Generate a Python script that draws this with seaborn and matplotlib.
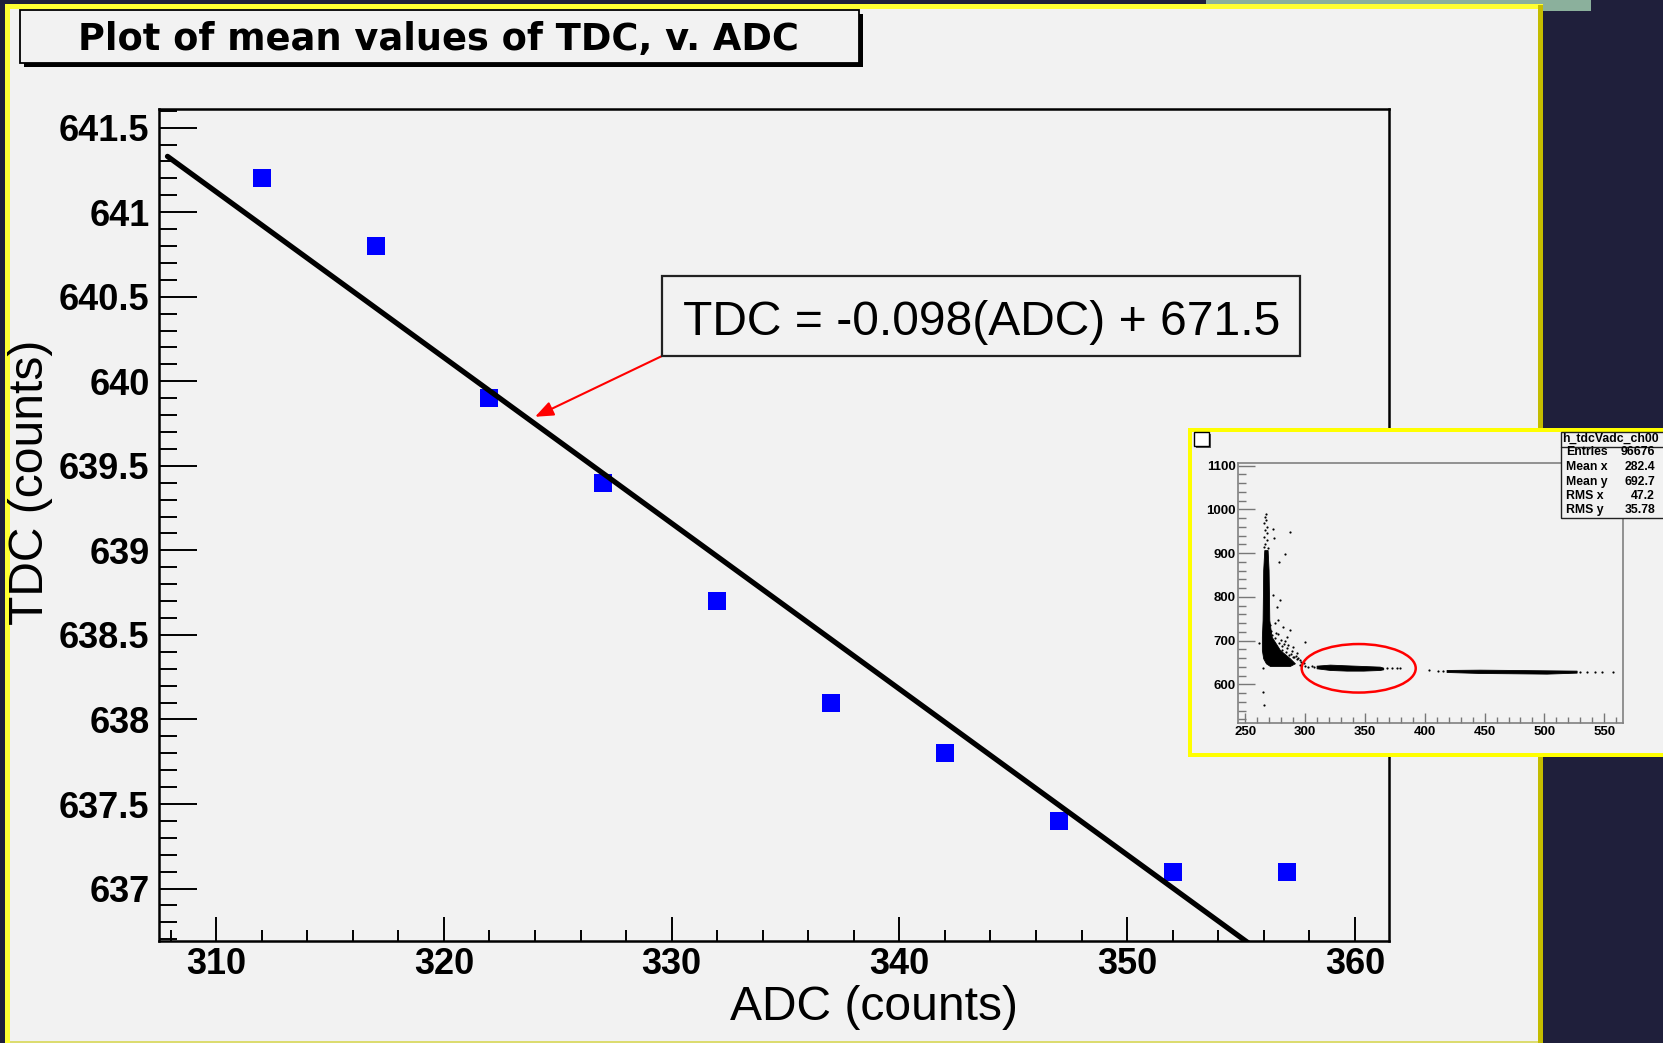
import matplotlib
matplotlib.use("Agg")
import matplotlib.pyplot as plt
from matplotlib.patches import Rectangle, Ellipse
from matplotlib.lines import Line2D
from matplotlib.ticker import MultipleLocator
import seaborn as sns

# ---------------- data ----------------
adc = [312, 317, 322, 327, 332, 337, 342, 347, 352, 357]
tdc_mean = [641.2, 640.8, 639.9, 639.4, 638.7, 638.1, 637.8, 637.4, 637.1, 637.1]

fit_slope = -0.098
fit_intercept = 671.5
fit_x = [307.86, 361.5]

x_ticks = [310, 320, 330, 340, 350, 360]
x_tick_labels = ["310", "320", "330", "340", "350", "360"]
y_ticks = [637, 637.5, 638, 638.5, 639, 639.5, 640, 640.5, 641, 641.5]
y_tick_labels = ["637", "637.5", "638", "638.5", "639", "639.5",
                 "640", "640.5", "641", "641.5"]

title_text = "Plot of mean values of TDC, v. ADC"
fit_text = "TDC = -0.098(ADC) + 671.5"

# inset: TDC vs ADC scatter, dense cores as bands plus sparse hits
stem_y = [642, 648, 659.5, 678.5, 709, 747, 808, 861, 907]
stem_xl = [270.6, 267.3, 265.0, 263.9, 263.9, 264.5, 264.8, 265.0, 265.9]
stem_xr = [287.3, 291.5, 287.3, 279.0, 272.0, 270.1, 269.8, 269.5, 268.7]

band1_x = [309.6, 320.8, 334.7, 348.6, 362.5, 365.3]
band1_lo = [636.6, 632.8, 631.3, 631.3, 632.8, 634.3]
band1_hi = [642.7, 645.0, 643.4, 641.9, 640.4, 638.1]

band2_x = [418.2, 446.1, 474.0, 501.8, 526.9]
band2_lo = [628.2, 625.9, 625.2, 624.4, 626.7]
band2_hi = [632.8, 633.5, 632.8, 632.0, 631.3]

hits_x = [267.5, 266.8, 267.2, 266.0, 268.0, 266.5, 267.8, 265.6, 268.4, 266.9,
          265.8, 268.9, 273.4, 287.3, 274.0, 283.2, 278.2, 273.4, 279.0, 277.6,
          281.8, 284.5, 290.1, 292.9, 299.9, 295.7, 287.3, 276.2, 273.4, 280.4,
          283.0, 286.0, 289.0, 292.0, 294.0, 297.0, 299.0, 296.0, 300.0, 261.7,
          264.5, 265.0, 265.6, 302.6, 305.4, 307.7, 368.1, 372.3, 376.5, 379.2,
          403.8, 411.3, 415.5, 529.7, 535.2, 542.2, 547.8, 557.5,
          270.5, 271.5, 272.5, 274.5, 276.0, 278.5, 281.0, 284.0, 286.5, 289.5,
          275.0, 277.0, 280.0, 282.5, 285.0, 288.0, 291.0, 293.5]
hits_y = [990, 983, 975, 968, 960, 952, 945, 938, 930, 922,
          915, 912, 954.4, 948.3, 933.9, 897.3, 880.4, 804.2, 792.8, 747,
          731.9, 709, 686.1, 670.9, 697.6, 655.6, 724.2, 777.6, 670.9, 678.5,
          700, 690, 676, 664, 660, 652, 648, 645, 643, 693.8,
          636.6, 583, 552.7, 640.4, 641.9, 639.6, 636.6, 636.6, 638.1, 637.3,
          632.8, 631.3, 631.3, 627.4, 628.2, 627.4, 627.4, 627.4,
          735, 722, 712, 705, 718, 695, 688, 675, 668, 662,
          740, 715, 702, 692, 682, 670, 662, 657]

ellipse_center = (344.8, 636.6)
ellipse_size = (95.3, 111.0)

stat_title = "h_tdcVadc_ch00"
stat_names = ["Entries", "Mean x", "Mean y", "RMS x", "RMS y"]
stat_values = ["96676", "282.4", "692.7", "47.2", "35.78"]

# ---------------- style ----------------
sns.set_style("ticks")
plt.rcParams["font.family"] = ["Liberation Sans", "DejaVu Sans"]
plt.rcParams.update({"text.color": "black", "axes.labelcolor": "black",
                     "xtick.color": "black", "ytick.color": "black",
                     "xtick.labelcolor": "black", "ytick.labelcolor": "black"})

NAVY = "#1f1f3b"
PANEL = "#f2f2f2"
W, H = 1663, 1043

fig = plt.figure(figsize=(W / 100, H / 100), dpi=100, facecolor=NAVY)


def prect(x0, y0, x1, y1, **kw):
    """Rectangle given in pixel coordinates (origin top-left)."""
    r = Rectangle((x0 / W, 1 - y1 / H), (x1 - x0) / W, (y1 - y0) / H,
                  transform=fig.transFigure, **kw)
    fig.add_artist(r)
    return r


def pline(x0, y0, x1, y1, **kw):
    fig.add_artist(Line2D([x0 / W, x1 / W], [1 - y0 / H, 1 - y1 / H],
                          transform=fig.transFigure, **kw))


# canvas frame
prect(1206, 0, 1591, 11, facecolor="#8bb09c", edgecolor="none", zorder=-12)
prect(5, 4, 1543, 1043, facecolor="#ffff33", edgecolor="none", zorder=-11)
prect(10, 9, 1538, 1041, facecolor=PANEL, edgecolor="none", zorder=-10)
prect(1538, 5, 1543, 1043, facecolor="#c4bc00", edgecolor="none", zorder=-9)
prect(10, 1041, 1538, 1043, facecolor="#dcdc70", edgecolor="none", zorder=-9)

# title box with drop shadow
prect(24, 14, 863, 67, facecolor="black", edgecolor="none", zorder=1)
prect(20, 10, 859, 63, facecolor=PANEL, edgecolor="black", linewidth=1.3, zorder=2)
fig.text(438 / W, 1 - 50 / H, title_text, ha="center", va="baseline",
         fontsize=26.5, fontweight="bold", family=["DejaVu Sans"],
         color="black", zorder=3)

# ---------------- main plot ----------------
ax = fig.add_axes([159.3 / W, 1 - 941 / H, (1389 - 159.3) / W, (941 - 109) / H],
                  zorder=0)
ax.set_facecolor(PANEL)

sns.scatterplot(x=adc, y=tdc_mean, marker="s", s=168, color="#0000ff",
                linewidth=0, ax=ax, zorder=2, legend=False)
fit_y = [fit_slope * x + fit_intercept for x in fit_x]
sns.lineplot(x=fit_x, y=fit_y, color="black", linewidth=3.8, ax=ax,
             zorder=3, legend=False)

ax.set_xlim(307.5, 361.5)
ax.set_ylim(636.69, 641.61)

ax.set_xticks(x_ticks, labels=x_tick_labels, fontsize=26, fontweight="bold",
              color="black")
ax.set_yticks(y_ticks, labels=y_tick_labels, fontsize=26, fontweight="bold",
              color="black")
ax.xaxis.set_minor_locator(MultipleLocator(2))
ax.yaxis.set_minor_locator(MultipleLocator(0.1))
ax.tick_params(axis="x", which="major", direction="in", length=17, width=1.4,
               pad=4, color="black")
ax.tick_params(axis="x", which="minor", direction="in", length=8, width=1.4,
               color="black")
ax.tick_params(axis="y", which="major", direction="in", length=27, width=1.4,
               pad=7, color="black")
ax.tick_params(axis="y", which="minor", direction="in", length=13, width=1.4,
               color="black")
for s in ax.spines.values():
    s.set_visible(True)
    s.set_linewidth(1.8)
    s.set_color("black")

ax.set_xlabel("ADC (counts)", fontsize=34.6, va="baseline", color="black")
ax.xaxis.set_label_coords((874 - 159.3) / 1229.7, (941 - 1020) / 832)
ax.set_ylabel("TDC (counts)", fontsize=34.6, va="center", color="black")
ax.yaxis.set_label_coords((31 - 159.3) / 1229.7, (941 - 482) / 832)

# fit annotation
prect(662, 276, 1300, 356, facecolor=PANEL, edgecolor="#222222",
      linewidth=1.6, zorder=1)
fig.text(683 / W, 1 - 335 / H, fit_text, ha="left", va="baseline",
         fontsize=34.6, color="black", zorder=3)
ax.annotate("", xy=(324.0, 639.79), xycoords="data",
            xytext=(662 / W, 1 - 356 / H), textcoords="figure fraction",
            arrowprops=dict(arrowstyle="-|>,head_length=0.55,head_width=0.22",
                            color="red", lw=1.5, mutation_scale=20,
                            shrinkA=0, shrinkB=0))

# ---------------- inset ----------------
prect(1188, 428, 1675, 757, facecolor="#ffff00", edgecolor="none", zorder=1)
prect(1192, 432, 1675, 753, facecolor=PANEL, edgecolor="none", zorder=1.1)
prect(1196, 434, 1211, 448, facecolor="#555555", edgecolor="none", zorder=1.2)
prect(1194, 432, 1209, 446, facecolor="white", edgecolor="black",
      linewidth=1.0, zorder=1.3)

iax = fig.add_axes([1238.3 / W, 1 - 723.3 / H, (1622.7 - 1238.3) / W,
                    (723.3 - 462.7) / H], zorder=2)
iax.set_facecolor(PANEL)
iax.fill_betweenx(stem_y, stem_xl, stem_xr, color="black", linewidth=0.6)
iax.fill_between(band1_x, band1_lo, band1_hi, color="black", linewidth=0.6)
iax.fill_between(band2_x, band2_lo, band2_hi, color="black", linewidth=0.6)
sns.scatterplot(x=hits_x, y=hits_y, s=2.5, color="black", linewidth=0,
                ax=iax, legend=False)
iax.add_patch(Ellipse(ellipse_center, ellipse_size[0], ellipse_size[1],
                      edgecolor="red", facecolor="none", linewidth=1.8, zorder=5))
iax.set_xlim(244.2, 565.4)
iax.set_ylim(510.8, 1106.9)
iax.set_xticks([250, 300, 350, 400, 450, 500, 550])
iax.set_yticks([600, 700, 800, 900, 1000, 1100])
iax.xaxis.set_minor_locator(MultipleLocator(10))
iax.yaxis.set_minor_locator(MultipleLocator(20))
iax.tick_params(axis="both", which="major", direction="in", color="#777777",
                width=1.0, labelsize=9.5, pad=2, labelcolor="black")
iax.tick_params(axis="x", which="major", length=7)
iax.tick_params(axis="x", which="minor", direction="in", length=4,
                color="#777777", width=1.0)
iax.tick_params(axis="y", which="major", length=12)
iax.tick_params(axis="y", which="minor", direction="in", length=6,
                color="#777777", width=1.0)
for lbl in iax.get_xticklabels() + iax.get_yticklabels():
    lbl.set_fontweight("bold")
for s in iax.spines.values():
    s.set_visible(True)
    s.set_linewidth(1.2)
    s.set_color("#808080")
iax.set_xlabel("")
iax.set_ylabel("")

# statistics box
prect(1561, 432, 1675, 518, facecolor=PANEL, edgecolor="#222222",
      linewidth=1.0, zorder=3)
pline(1561, 446.7, 1663, 446.7, color="#222222", linewidth=1.0, zorder=3.5)
fig.text(1610 / W, 1 - 439 / H, stat_title, ha="center", va="center",
         fontsize=8.8, fontweight="bold", color="black", zorder=4)
row_y = [452, 467, 482, 496, 510]
for name, val, ry in zip(stat_names, stat_values, row_y):
    fig.text(1566 / W, 1 - ry / H, name, ha="left", va="center",
             fontsize=8.8, fontweight="bold", color="black", zorder=4)
    fig.text(1655 / W, 1 - ry / H, val, ha="right", va="center",
             fontsize=8.8, fontweight="bold", color="black", zorder=4)

fig.savefig("out.png", dpi=100, facecolor=fig.get_facecolor())
